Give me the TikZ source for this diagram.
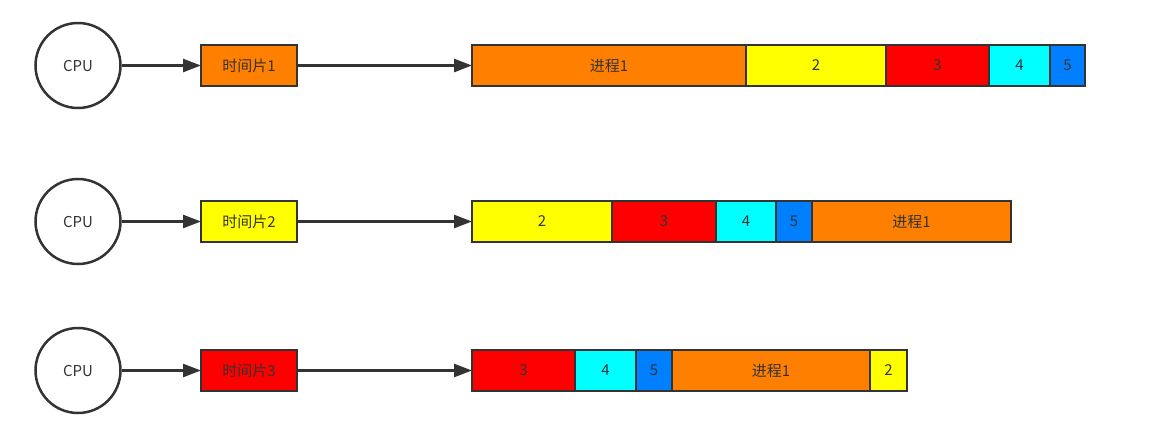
\documentclass[tikz,border=0pt]{standalone}
\usepackage{fontspec}
\newfontfamily\cjk{Noto Sans CJK SC}
\usetikzlibrary{arrows.meta}
\definecolor{ln}{HTML}{333333}
\definecolor{cor}{HTML}{FF8000}
\definecolor{cye}{HTML}{FFFF00}
\definecolor{cre}{HTML}{FF0000}
\definecolor{ccy}{HTML}{00FFFF}
\definecolor{cbl}{HTML}{007FFF}
\tikzset{
  cpu/.style={circle,draw=ln,line width=2.5pt,minimum size=85pt,inner sep=0pt,font=\cjk\fontsize{15pt}{17pt}\selectfont,text=ln},
  seg/.style={rectangle,draw=ln,line width=2.5pt,minimum height=41pt,inner sep=0pt,outer sep=0pt,font=\cjk\fontsize{15pt}{17pt}\selectfont,text=ln},
  arr/.style={draw=ln,line width=2.5pt,-{Triangle[length=18pt,width=13pt]}}
}
\begin{document}
\begin{tikzpicture}[x=1pt,y=-1pt]
\useasboundingbox (0,0) rectangle (1160,445);
% row 1
\node[cpu] (c1) at (78,65.5) {CPU};
\node[seg,fill=cor,minimum width=96pt] (t1) at (249,65.5) {时间片1};
\node[seg,fill=cor,minimum width=274pt] (r1a) at (609,65.5) {进程1};
\node[seg,fill=cye,minimum width=140pt] (r1b) at (816,65.5) {2};
\node[seg,fill=cre,minimum width=103pt] (r1c) at (937.5,65.5) {3};
\node[seg,fill=ccy,minimum width=61pt] (r1d) at (1019.5,65.5) {4};
\node[seg,fill=cbl,minimum width=35pt] (r1e) at (1067.5,65.5) {5};
\draw[arr] (c1) -- (t1);
\draw[arr] (t1) -- (r1a);
% row 2
\node[cpu] (c2) at (78,221.5) {CPU};
\node[seg,fill=cye,minimum width=96pt] (t2) at (249,221.5) {时间片2};
\node[seg,fill=cye,minimum width=140pt] (r2a) at (542,221.5) {2};
\node[seg,fill=cre,minimum width=104pt] (r2b) at (664,221.5) {3};
\node[seg,fill=ccy,minimum width=60pt] (r2c) at (746,221.5) {4};
\node[seg,fill=cbl,minimum width=36pt] (r2d) at (794,221.5) {5};
\node[seg,fill=cor,minimum width=199pt] (r2e) at (911.5,221.5) {进程1};
\draw[arr] (c2) -- (t2);
\draw[arr] (t2) -- (r2a);
% row 3
\node[cpu] (c3) at (78,370.5) {CPU};
\node[seg,fill=cre,minimum width=96pt] (t3) at (249,370.5) {时间片3};
\node[seg,fill=cre,minimum width=103pt] (r3a) at (523.5,370.5) {3};
\node[seg,fill=ccy,minimum width=61pt] (r3b) at (605.5,370.5) {4};
\node[seg,fill=cbl,minimum width=36pt] (r3c) at (654,370.5) {5};
\node[seg,fill=cor,minimum width=198pt] (r3d) at (771,370.5) {进程1};
\node[seg,fill=cye,minimum width=37pt] (r3e) at (888.5,370.5) {2};
\draw[arr] (c3) -- (t3);
\draw[arr] (t3) -- (r3a);
\end{tikzpicture}
\end{document}
